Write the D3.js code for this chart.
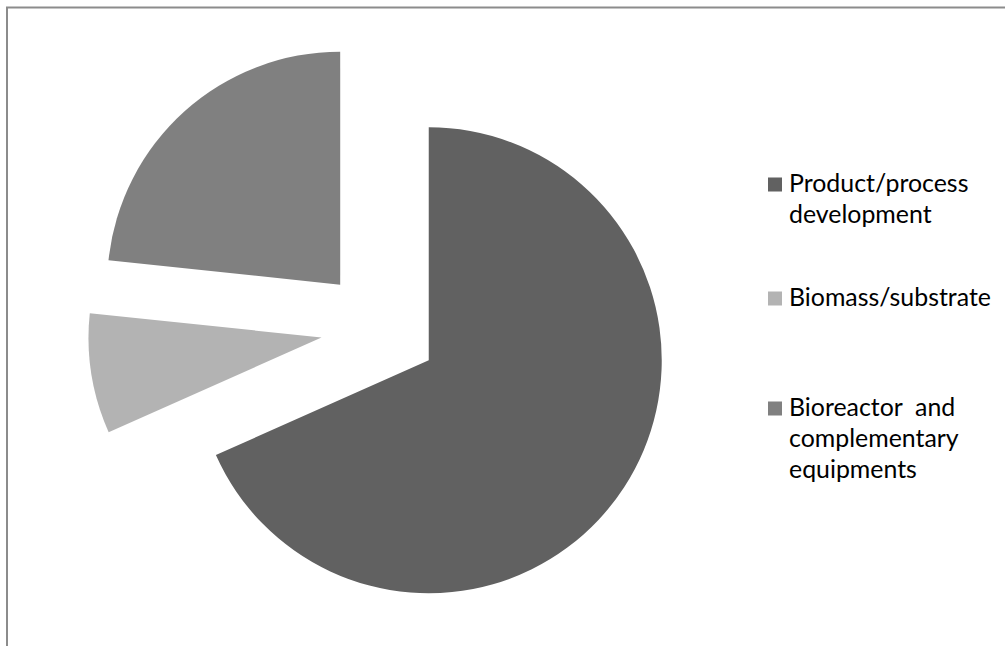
<!DOCTYPE html>
<html>
<head>
<meta charset="utf-8">
<script src="https://cdn.jsdelivr.net/npm/d3@7/dist/d3.min.js"></script>
<style>
  html, body { margin: 0; padding: 0; background: #fff; }
  svg { display: block; }
  .legend text { font-family: Lato, "Open Sans", sans-serif; fill: #000; white-space: pre; }
</style>
</head>
<body>
<svg id="chart" width="1005" height="646"></svg>
<script>
// Share of effort by area
const categories = ["Product/process development", "Biomass/substrate", "Bioreactor  and complementary equipments"];
const values = [82, 10, 28];
const legendLines = [["Product/process", "development"], ["Biomass/substrate"], ["Bioreactor  and", "complementary", "equipments"]];
const colors = ["#616161", "#b3b3b3", "#808080"];

const svg = d3.select("#chart");
const W = 1005, H = 646;

// Chart frame (only top and left edges fall inside the viewport)
svg.append("rect")
  .attr("x", 7).attr("y", 7.5)
  .attr("width", W + 20).attr("height", H + 20)
  .attr("fill", "none")
  .attr("stroke", "#8c8c8c")
  .attr("stroke-width", 2);

// Exploded pie
const radius = 233;
const explode = 0.252 * radius;
const cx = 379.5, cy = 328.3;

const pie = d3.pie().sort(null).value(d => d).startAngle(0).endAngle(2 * Math.PI);
const arcs = pie(values);
const arc = d3.arc().innerRadius(0).outerRadius(radius);

const g = svg.append("g").attr("transform", `translate(${cx},${cy})`);
g.selectAll("path.slice")
  .data(arcs)
  .join("path")
  .attr("class", "slice")
  .attr("fill", (d, i) => colors[i])
  .attr("d", arc)
  .attr("transform", d => {
    const mid = (d.startAngle + d.endAngle) / 2;
    const dx = explode * Math.sin(mid);
    const dy = -explode * Math.cos(mid);
    return `translate(${dx},${dy})`;
  });

// Legend
const legendX = 768;
const textX = 789;
const firstBaselines = [192, 306, 416];
const lineGap = 31;
const fontSize = 22;

const legend = svg.append("g").attr("class", "legend");
const items = legend.selectAll("g.item")
  .data(categories)
  .join("g")
  .attr("class", "item");

items.append("rect")
  .attr("x", legendX)
  .attr("y", (d, i) => firstBaselines[i] - 14.5)
  .attr("width", 14)
  .attr("height", 14)
  .attr("fill", (d, i) => colors[i]);

items.each(function(d, i) {
  const t = d3.select(this).append("text")
    .attr("x", textX)
    .attr("y", firstBaselines[i])
    .style("font-size", fontSize + "px");
  legendLines[i].forEach((line, j) => {
    t.append("tspan")
      .attr("x", textX)
      .attr("y", firstBaselines[i] + j * lineGap)
      .text(line);
  });
});

// Fit the legend font so the widest single-line label spans its measured width
const probe = legend.selectAll("tspan").filter(function() { return this.textContent === "Biomass/substrate"; }).node();
if (probe) {
  const w = probe.getComputedTextLength();
  const target = 202;
  const size = fontSize * target / w;
  legend.selectAll("text").style("font-size", size + "px");
}
</script>
</body>
</html>
